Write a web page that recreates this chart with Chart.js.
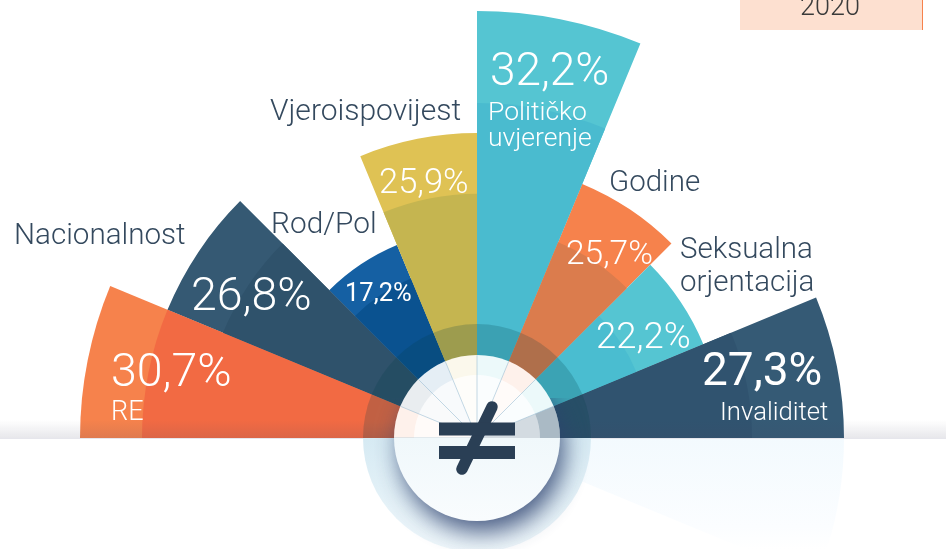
<!DOCTYPE html>
<html>
<head>
<meta charset="utf-8">
<style>html,body{margin:0;padding:0;background:#fff;overflow:hidden}canvas{display:block}</style>
<script src="https://cdn.jsdelivr.net/npm/chart.js@4/dist/chart.umd.js"></script>
</head>
<body>
<canvas id="c" width="946" height="549"></canvas>
<script>
const categories = ['RE','Nacionalnost','Rod/Pol','Vjeroispovijest','Političko uvjerenje','Godine','Seksualna orjentacija','Invaliditet'];
const values2020 = [30.7,26.8,17.2,25.9,32.2,25.7,22.2,27.3];
// inner, darker wedges carry no printed number: read from their radius
const valuesInner = [26.8,25.7,14.2,22.1,26.8,17.6,14.2,25.7];
const year = '2020';

const outerColors = ['#F6824C','#355973','#1560A3','#DFC254','#55C5D2','#F6824C','#55C5D2','#355A75'];
const innerColors = ['#F26A43','#2F526B','#0A5290','#C5B550','#4ABBCF','#DB7C4D','#4ABDD0','#30536F'];

// The source spaces its wedges by rank, not in proportion: percent -> px radius
const scalePercent = [0,17.2,22.2,25.7,25.9,26.8,27.3,30.7,32.2];
const scaleRadius  = [0,209,245,275,305,335,367,397,427];

class RankRadialScale extends Chart.RadialLinearScale {
  fit(){
    super.fit();
    this.xCenter = 477; this.yCenter = 438; this.drawingArea = 438;
  }
  getDistanceFromCenterForValue(v){
    if (v === null || isNaN(v)) return 0;
    let i = 1;
    while (i < scalePercent.length-1 && v > scalePercent[i]) i++;
    const t = (v-scalePercent[i-1])/(scalePercent[i]-scalePercent[i-1]);
    return scaleRadius[i-1]+t*(scaleRadius[i]-scaleRadius[i-1]);
  }
}
RankRadialScale.id = 'rankRadial';
RankRadialScale.defaults = {};
Chart.register(RankRadialScale);

const FONT = 'Roboto, "Open Sans", sans-serif';
const DARK = '#34495E';
// text, x, baseline, size, colour, weight
const texts = [
  ['30,7%',111,386,46.5,'#fff',300],['RE',111,420,27,'#fff',300],
  ['26,8%',191,310,46.5,'#fff',300],
  ['17,2%',345,301,25.5,'#fff',400],
  ['25,9%',379,193,34.5,'#fff',300],
  ['32,2%',490,85,46,'#fff',300],['Političko',488,120,26.5,'#fff',300],['uvjerenje',488,146,26.5,'#fff',300],
  ['25,7%',566,264,33.5,'#fff',300],
  ['22,2%',596,348,36.5,'#fff',300],
  ['27,3%',702,385,46,'#fff',400],['Invaliditet',720,420,25.7,'#fff',300],
  ['Nacionalnost',14,244,29.6,DARK,300],['Rod/Pol',271,233,29.8,DARK,300],
  ['Vjeroispovijest',270,120,30,DARK,300],['Godine',609,191,29.5,DARK,300],
  ['Seksualna',680,258,29.5,DARK,300],['orjentacija',680,291,29.5,DARK,300]
];

const decor = {
  id:'decor',
  beforeDatasetsDraw(chart){
    const {ctx,scales:{r}} = chart, cx=r.xCenter, cy=r.yCenter;
    ctx.save();
    ctx.fillStyle='#FDE0D0'; ctx.fillRect(740,0,183,30);
    ctx.fillStyle='#F6824C'; ctx.fillRect(922,0,1,30);
    const g=ctx.createLinearGradient(0,cy,0,549);
    g.addColorStop(0,'#F3FAFE'); g.addColorStop(.8,'#FBFDFF'); g.addColorStop(1,'#FFFFFF');
    ctx.fillStyle=g; ctx.beginPath(); ctx.moveTo(cx,cy);
    ctx.arc(cx,cy,r.getDistanceFromCenterForValue(values2020[7]),0,Math.PI/8); ctx.closePath(); ctx.fill();
    ctx.restore();
  },
  afterDatasetsDraw(chart){
    const {ctx,scales:{r}} = chart, cx=r.xCenter, cy=r.yCenter;
    const half=(R,upper)=>{ctx.beginPath();ctx.arc(cx,cy,R,upper?Math.PI:0,upper?2*Math.PI:Math.PI);ctx.closePath();};
    ctx.save();
    // horizon shading
    let g=ctx.createLinearGradient(0,cy-18,0,cy);
    g.addColorStop(0,'rgba(70,70,100,0)'); g.addColorStop(1,'rgba(70,70,100,.13)');
    ctx.fillStyle=g; ctx.fillRect(0,cy-18,946,18);
    ctx.fillStyle='#E6E6EC'; ctx.fillRect(0,cy,946,1);
    // outer ring
    ctx.fillStyle='rgba(0,60,70,.2)'; half(114,true); ctx.fill();
    g=ctx.createLinearGradient(0,cy,0,cy+114);
    g.addColorStop(0,'#D6EAF3'); g.addColorStop(1,'#EFF7FB');
    ctx.fillStyle=g; half(114,false); ctx.fill();
    // shadow below the hub
    ctx.save();
    ctx.beginPath(); ctx.rect(cx-130,cy-40,260,200); ctx.clip();
    ctx.shadowColor='rgba(45,65,110,.85)'; ctx.shadowBlur=24; ctx.shadowOffsetY=12; ctx.shadowOffsetX=5;
    ctx.fillStyle='#fff'; ctx.beginPath(); ctx.arc(cx,cy,82,0,Math.PI*2); ctx.fill();
    ctx.restore();
    // hub: pale tints of the wedges behind the glass
    const meta=chart.getDatasetMeta(1);
    const boundaries=()=>{
      ctx.strokeStyle='rgba(150,185,210,.55)'; ctx.lineWidth=1;
      meta.data.forEach(a=>{
        ctx.beginPath(); ctx.moveTo(cx,cy);
        ctx.lineTo(cx+83*Math.cos(a.startAngle),cy+83*Math.sin(a.startAngle)); ctx.stroke();
      });
    };
    ctx.fillStyle='#fff'; half(83,true); ctx.fill();
    meta.data.forEach((a,i)=>{
      ctx.globalAlpha = i===7 ? .42 : .11;
      ctx.fillStyle=outerColors[i];
      ctx.beginPath(); ctx.moveTo(cx,cy); ctx.arc(cx,cy,83,a.startAngle,a.endAngle); ctx.closePath(); ctx.fill();
    });
    ctx.globalAlpha=1;
    ctx.fillStyle='#fff'; half(63,true); ctx.fill();
    meta.data.forEach((a,i)=>{
      ctx.globalAlpha = i===7 ? .22 : .03;
      ctx.fillStyle=outerColors[i];
      ctx.beginPath(); ctx.moveTo(cx,cy); ctx.arc(cx,cy,63,a.startAngle,a.endAngle); ctx.closePath(); ctx.fill();
    });
    ctx.globalAlpha=1;
    boundaries();
    g=ctx.createLinearGradient(0,cy,0,cy+83);
    g.addColorStop(0,'#F0F8FB'); g.addColorStop(1,'#F9FCFE');
    ctx.fillStyle=g; half(83,false); ctx.fill();
    // not-equal sign
    ctx.strokeStyle='#2A3F55'; ctx.lineWidth=11.5; ctx.lineCap='round';
    ctx.beginPath(); ctx.moveTo(cx+15,cy-31); ctx.lineTo(cx-15,cy+31); ctx.stroke();
    ctx.fillStyle='#2A3F55';
    ctx.fillRect(cx-38,cy-15.5,76,13); ctx.fillRect(cx-38,cy+8,76,13);
    // text
    ctx.textBaseline='alphabetic'; ctx.textAlign='left';
    texts.forEach(([s,x,y,size,col,w])=>{
      ctx.font=`${w} ${size}px ${FONT}`; ctx.fillStyle=col; ctx.fillText(s,x,y);
    });
    ctx.font=`300 27px ${FONT}`; ctx.fillStyle='#3A3A3A'; ctx.textAlign='center'; ctx.fillText(year,830,15);
    ctx.restore();
  }
};

new Chart(document.getElementById('c'),{
  type:'polarArea',
  data:{labels:categories,datasets:[
    {label:'inner',data:valuesInner,backgroundColor:innerColors,borderWidth:0,angle:22.5},
    {label:year,data:values2020,backgroundColor:outerColors,borderWidth:0,angle:22.5}
  ]},
  options:{
    responsive:false,animation:false,
    plugins:{legend:{display:false},tooltip:{enabled:false}},
    scales:{r:{type:'rankRadial',display:false,min:0,max:40,startAngle:-90,
      ticks:{display:false},grid:{display:false},angleLines:{display:false},pointLabels:{display:false}}}
  },
  plugins:[decor]
});
</script>
</body>
</html>
